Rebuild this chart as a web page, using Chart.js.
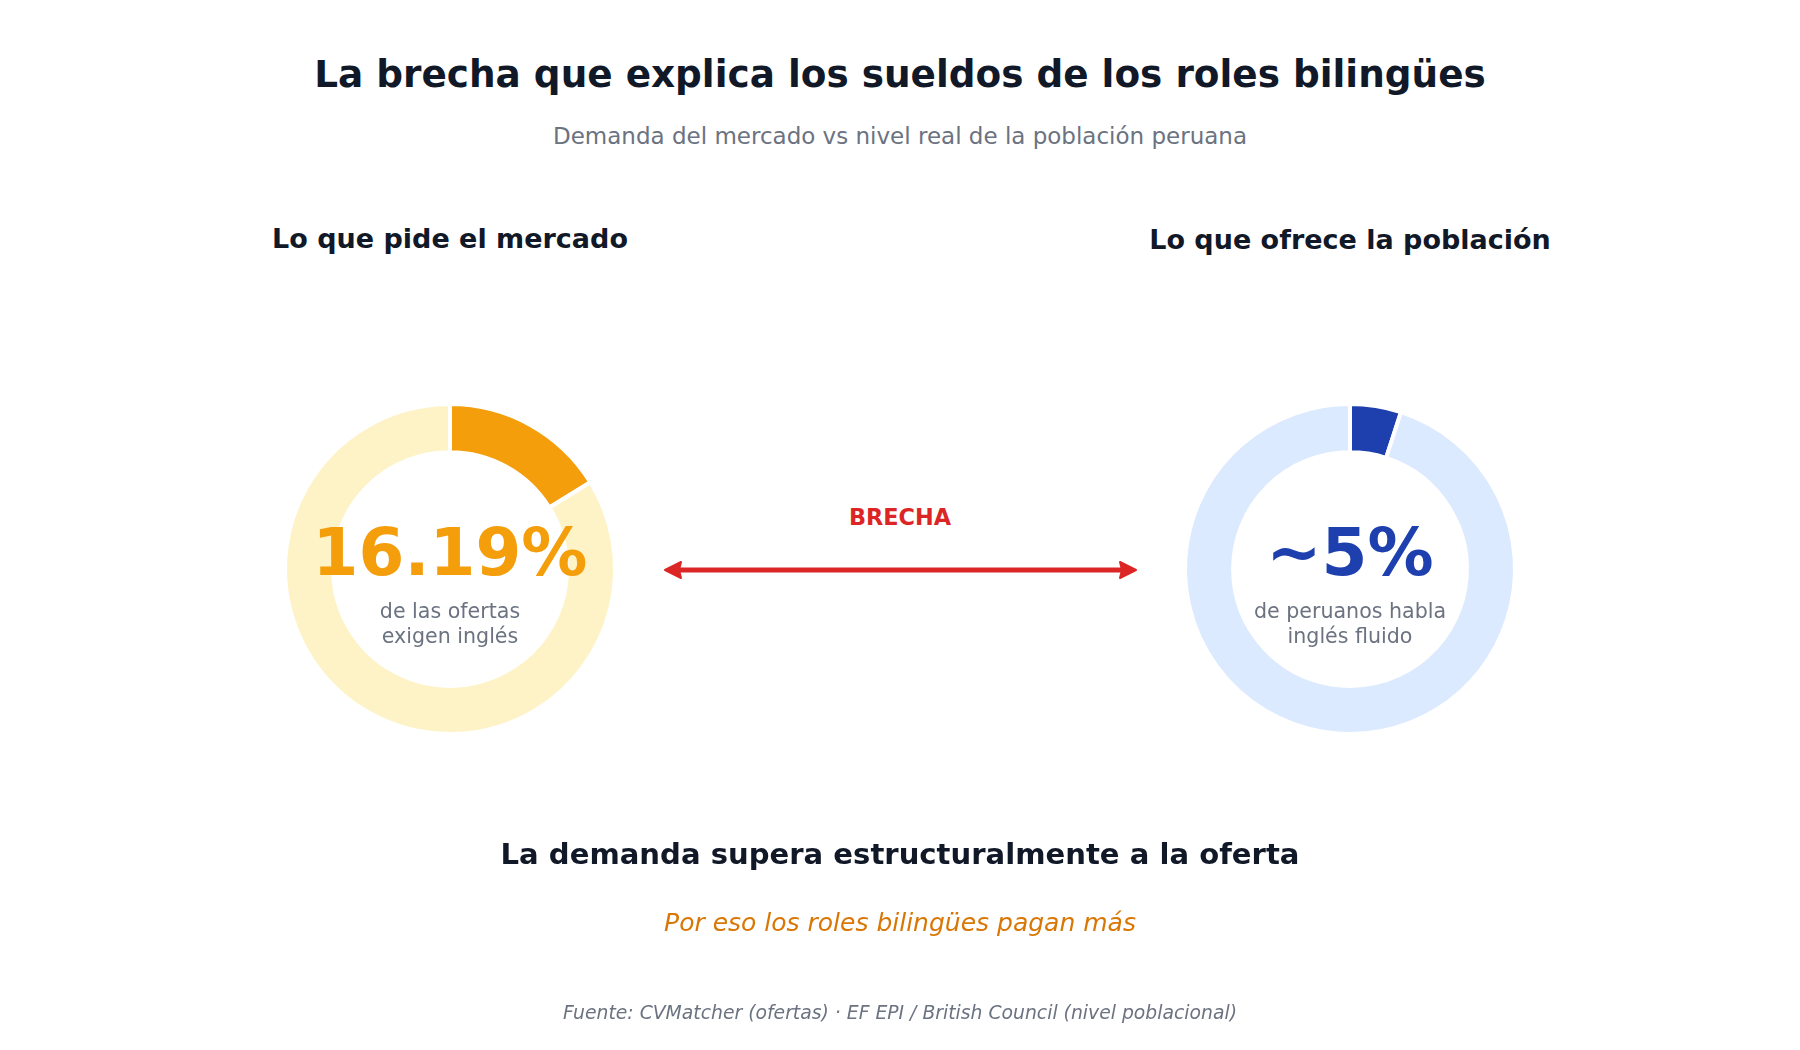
<!DOCTYPE html>
<html>
<head>
<meta charset="utf-8">
<script src="https://cdn.jsdelivr.net/npm/chart.js@4"></script>
<style>
  html, body { margin: 0; padding: 0; background: #fff; }
  body { width: 1800px; height: 1050px; position: relative; overflow: hidden; font-family: "DejaVu Sans", sans-serif; }
  .t { position: absolute; transform: translate(-50%, -50%); white-space: nowrap; line-height: 1.15; text-align: center; }
  .donut { position: absolute; width: 340px; height: 340px; }
</style>
</head>
<body>
<div class="t" style="left:900px;top:75px;font-size:37.4px;font-weight:bold;color:#111827">La brecha que explica los sueldos de los roles bilingües</div>
<div class="t" style="left:900px;top:136px;font-size:23px;color:#6b7280">Demanda del mercado vs nivel real de la población peruana</div>

<div class="t" id="leftTitle" style="left:450px;top:239px;font-size:27px;font-weight:bold;color:#111827"></div>
<div class="t" id="rightTitle" style="left:1350px;top:240px;font-size:27px;font-weight:bold;color:#111827"></div>

<div class="donut" style="left:280px;top:399px"><canvas id="marketChart" width="340" height="340"></canvas></div>
<div class="donut" style="left:1180px;top:399px"><canvas id="peopleChart" width="340" height="340"></canvas></div>

<div class="t" id="leftBig" style="left:450px;top:553px;font-size:66px;font-weight:bold;color:#f59e0b"></div>
<div class="t" style="left:450px;top:624px;font-size:20.6px;color:#6b7280;line-height:1.2">de las ofertas<br>exigen inglés</div>
<div class="t" id="rightBig" style="left:1350px;top:553px;font-size:66px;font-weight:bold;color:#1e40af"></div>
<div class="t" style="left:1350px;top:624px;font-size:20.6px;color:#6b7280;line-height:1.2">de peruanos habla<br>inglés fluido</div>

<div class="t" style="left:900px;top:518px;font-size:22.4px;font-weight:bold;color:#dc2626">BRECHA</div>
<svg style="position:absolute;left:0;top:0" width="1800" height="1050">
  <line x1="678" y1="570" x2="1123" y2="570" stroke="#dc2626" stroke-width="5"/>
  <path d="M665 570 L681 562 L679 570 L681 578 Z" fill="#dc2626" stroke="#dc2626" stroke-width="2" stroke-linejoin="round"/>
  <path d="M1136 570 L1120 562 L1122 570 L1120 578 Z" fill="#dc2626" stroke="#dc2626" stroke-width="2" stroke-linejoin="round"/>
</svg>

<div class="t" style="left:900px;top:855px;font-size:29.1px;font-weight:bold;color:#111827">La demanda supera estructuralmente a la oferta</div>
<div class="t" style="left:900px;top:923px;font-size:25px;font-style:italic;color:#d97706">Por eso los roles bilingües pagan más</div>
<div class="t" style="left:900px;top:1013px;font-size:18.8px;font-style:italic;color:#6b7280">Fuente: CVMatcher (ofertas) · EF EPI / British Council (nivel poblacional)</div>

<script>
// panel titles and shares (%)
const panelTitles = ['Lo que pide el mercado', 'Lo que ofrece la población'];
const bigLabels = ['16.19%', '~5%'];
const marketShare = [16.19, 100 - 16.19];
const peopleShare = [5, 100 - 5];
const segmentLabels = ['Inglés', 'Resto'];

const marketColors = ['#f59e0b', '#fef3c7'];
const peopleColors = ['#1e40af', '#dbeafe'];

document.getElementById('leftTitle').textContent = panelTitles[0];
document.getElementById('rightTitle').textContent = panelTitles[1];
document.getElementById('leftBig').textContent = bigLabels[0];
document.getElementById('rightBig').textContent = bigLabels[1];

function donutConfig(values, colors) {
    return {
        type: 'doughnut',
        data: {
            labels: segmentLabels,
            datasets: [{
                data: values,
                backgroundColor: colors,
                borderColor: '#ffffff',
                borderWidth: 4
            }]
        },
        options: {
            responsive: false,
            animation: false,
            radius: 165,
            cutout: 119,
            plugins: {
                legend: { display: false },
                tooltip: { enabled: false }
            },
            events: []
        }
    };
}

new Chart(document.getElementById('marketChart'), donutConfig(marketShare, marketColors));
new Chart(document.getElementById('peopleChart'), donutConfig(peopleShare, peopleColors));
</script>
</body>
</html>
